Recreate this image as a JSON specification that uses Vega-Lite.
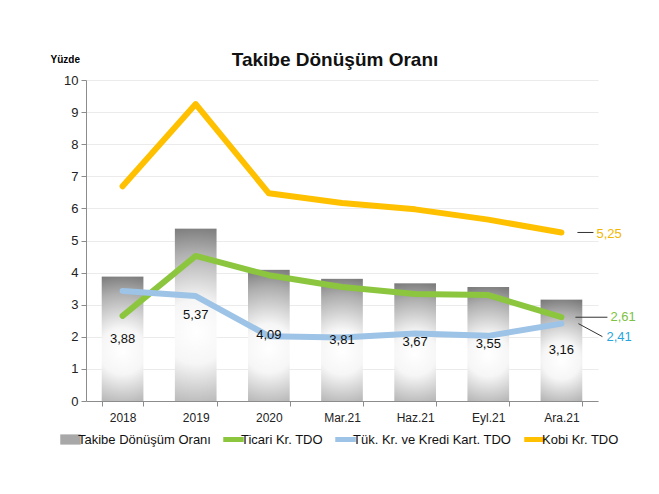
{
  "$schema": "https://vega.github.io/schema/vega-lite/v6.json",
  "autosize": "none",
  "width": 512,
  "height": 321,
  "padding": {"left": 86, "top": 80, "right": 61, "bottom": 93},
  "background": "white",
  "title": {"text": "Takibe Dönüşüm Oranı", "fontSize": 19, "fontWeight": "bold", "font": "Liberation Sans", "color": "#111", "anchor": "middle", "offset": 6, "dy": 22, "dx": -7},
  "datasets": {
    "bars": [
      {"period": "2018", "value": 3.88},
      {"period": "2019", "value": 5.37},
      {"period": "2020", "value": 4.09},
      {"period": "Mar.21", "value": 3.81},
      {"period": "Haz.21", "value": 3.67},
      {"period": "Eyl.21", "value": 3.55},
      {"period": "Ara.21", "value": 3.16}
    ],
    "lines": [
      {"period": "2018", "series": "Ticari Kr. TDO", "value": 2.65},
      {"period": "2019", "series": "Ticari Kr. TDO", "value": 4.52},
      {"period": "2020", "series": "Ticari Kr. TDO", "value": 3.92},
      {"period": "Mar.21", "series": "Ticari Kr. TDO", "value": 3.55},
      {"period": "Haz.21", "series": "Ticari Kr. TDO", "value": 3.33},
      {"period": "Eyl.21", "series": "Ticari Kr. TDO", "value": 3.3},
      {"period": "Ara.21", "series": "Ticari Kr. TDO", "value": 2.61},
      {"period": "2018", "series": "Tük. Kr. ve Kredi Kart. TDO", "value": 3.43},
      {"period": "2019", "series": "Tük. Kr. ve Kredi Kart. TDO", "value": 3.27},
      {"period": "2020", "series": "Tük. Kr. ve Kredi Kart. TDO", "value": 2.02},
      {"period": "Mar.21", "series": "Tük. Kr. ve Kredi Kart. TDO", "value": 1.98},
      {"period": "Haz.21", "series": "Tük. Kr. ve Kredi Kart. TDO", "value": 2.1},
      {"period": "Eyl.21", "series": "Tük. Kr. ve Kredi Kart. TDO", "value": 2.03},
      {"period": "Ara.21", "series": "Tük. Kr. ve Kredi Kart. TDO", "value": 2.41},
      {"period": "2018", "series": "Kobi Kr. TDO", "value": 6.69},
      {"period": "2019", "series": "Kobi Kr. TDO", "value": 9.25},
      {"period": "2020", "series": "Kobi Kr. TDO", "value": 6.47},
      {"period": "Mar.21", "series": "Kobi Kr. TDO", "value": 6.17},
      {"period": "Haz.21", "series": "Kobi Kr. TDO", "value": 5.97},
      {"period": "Eyl.21", "series": "Kobi Kr. TDO", "value": 5.65},
      {"period": "Ara.21", "series": "Kobi Kr. TDO", "value": 5.25}
    ]
  },
  "resolve": {"scale": {"y": "independent"}},
  "encoding": {
    "x": {
      "field": "period", "type": "nominal",
      "sort": ["2018", "2019", "2020", "Mar.21", "Haz.21", "Eyl.21", "Ara.21"],
      "scale": {"paddingInner": 0.43, "paddingOuter": 0.215},
      "axis": {"title": null, "labelAngle": 0, "labelFontSize": 12, "labelColor": "#222", "tickBand": "extent", "tickSize": 5, "domainColor": "#8c8c8c", "tickColor": "#8c8c8c", "labelPadding": 6}
    }
  },
  "layer": [
    {
      "data": {"name": "bars"},
      "mark": {"type": "bar", "fill": {"gradient": "radial", "x1": 0.5, "y1": 0.6, "r1": 0, "x2": 0.5, "y2": 0.6, "r2": 0.62, "stops": [{"offset": 0, "color": "#ffffff"}, {"offset": 0.3, "color": "#f6f6f6"}, {"offset": 0.75, "color": "#aeaeae"}, {"offset": 1, "color": "#7a7a7a"}]}},
      "encoding": {
        "y": {"field": "value", "type": "quantitative", "scale": {"domain": [0, 10]},
          "axis": {"title": "Yüzde", "titleAngle": 0, "titleAlign": "left", "titleBaseline": "alphabetic", "titleX": -36, "titleY": -18, "titleFontSize": 10, "titleFontWeight": "bold", "values": [0,1,2,3,4,5,6,7,8,9,10], "labelFontSize": 13, "labelColor": "#222", "grid": true, "gridColor": "#ebebeb", "domainColor": "#8c8c8c", "tickColor": "#8c8c8c", "tickSize": 5, "labelPadding": 3}}
      }
    },
    {
      "data": {"name": "lines"},
      "mark": {"type": "line", "strokeWidth": 6, "strokeCap": "round", "strokeJoin": "round"},
      "encoding": {
        "y": {"field": "value", "type": "quantitative", "scale": {"domain": [0, 10]}, "axis": null},
        "color": {"field": "series", "type": "nominal",
          "scale": {"domain": ["Takibe Dönüşüm Oranı", "Ticari Kr. TDO", "Tük. Kr. ve Kredi Kart. TDO", "Kobi Kr. TDO"], "range": ["#8a8a8a", "#8CC63F", "#9DC3E6", "#FFC000"]},
          "legend": {"title": null, "orient": "none", "legendX": -22, "legendY": 353, "direction": "horizontal", "columns": 4, "gridAlign": "none", "labelFontSize": 13, "labelColor": "#111", "labelOffset": 1, "labelLimit": 0, "columnPadding": 2, "symbolSize": 420, "symbolStrokeWidth": 5, "symbolType": "stroke",
            "encode": {"symbols": {"update": {
              "shape": {"signal": "datum.value === 'Takibe Dönüşüm Oranı' ? 'M-1,-0.5H1V0.5H-1Z' : 'stroke'"},
              "fill": {"signal": "datum.value === 'Takibe Dönüşüm Oranı' ? '#a8a8a8' : 'transparent'"},
              "strokeWidth": {"signal": "datum.value === 'Takibe Dönüşüm Oranı' ? 0 : 5"}
            }}}
          }
        }
      }
    },
    {
      "data": {"name": "bars"},
      "mark": {"type": "text", "fontSize": 13, "color": "#111"},
      "encoding": {
        "y": {"field": "value", "type": "quantitative", "scale": {"domain": [0, 20]}, "axis": null},
        "text": {"field": "value", "type": "quantitative", "format": ".2f"}
      }
    },
    {
      "data": {"name": "lines"},
      "transform": [{"filter": "datum.period === 'Ara.21' && datum.series === 'Kobi Kr. TDO'"}],
      "mark": {"type": "rule", "color": "#333", "strokeWidth": 1, "xOffset": 16, "x2Offset": 32},
      "encoding": {"x2": {"field": "period"}, "y": {"field": "value", "type": "quantitative", "scale": {"domain": [0, 10]}, "axis": null}}
    },
    {
      "data": {"name": "lines"},
      "transform": [{"filter": "datum.period === 'Ara.21' && datum.series === 'Ticari Kr. TDO'"}],
      "mark": {"type": "rule", "color": "#333", "strokeWidth": 1, "xOffset": 14, "x2Offset": 46},
      "encoding": {"x2": {"field": "period"}, "y": {"field": "value", "type": "quantitative", "scale": {"domain": [0, 10]}, "axis": null}}
    },
    {
      "data": {"name": "lines"},
      "transform": [{"filter": "datum.period === 'Ara.21' && datum.series === 'Tük. Kr. ve Kredi Kart. TDO'"}],
      "mark": {"type": "rule", "color": "#333", "strokeWidth": 1, "xOffset": 17, "x2Offset": 41, "y2Offset": 13},
      "encoding": {"x2": {"field": "period"}, "y": {"field": "value", "type": "quantitative", "scale": {"domain": [0, 10]}, "axis": null}, "y2": {"field": "value"}}
    },
    {
      "data": {"name": "lines"},
      "transform": [{"filter": "datum.period === 'Ara.21' && datum.series === 'Kobi Kr. TDO'"}],
      "mark": {"type": "text", "align": "left", "dx": 35, "dy": 2, "fontSize": 13, "color": "#F2B600"},
      "encoding": {"y": {"field": "value", "type": "quantitative", "scale": {"domain": [0, 10]}, "axis": null}, "text": {"field": "value", "type": "quantitative", "format": ".2f"}}
    },
    {
      "data": {"name": "lines"},
      "transform": [{"filter": "datum.period === 'Ara.21' && datum.series === 'Ticari Kr. TDO'"}],
      "mark": {"type": "text", "align": "left", "dx": 49, "dy": 0, "fontSize": 13, "color": "#7DC242"},
      "encoding": {"y": {"field": "value", "type": "quantitative", "scale": {"domain": [0, 10]}, "axis": null}, "text": {"field": "value", "type": "quantitative", "format": ".2f"}}
    },
    {
      "data": {"name": "lines"},
      "transform": [{"filter": "datum.period === 'Ara.21' && datum.series === 'Tük. Kr. ve Kredi Kart. TDO'"}],
      "mark": {"type": "text", "align": "left", "dx": 45, "dy": 13, "fontSize": 13, "color": "#2AA6DE"},
      "encoding": {"y": {"field": "value", "type": "quantitative", "scale": {"domain": [0, 10]}, "axis": null}, "text": {"field": "value", "type": "quantitative", "format": ".2f"}}
    }
  ],
  "config": {
    "font": "Liberation Sans",
    "view": {"stroke": null},
    "locale": {"number": {"decimal": ",", "thousands": ".", "grouping": [3], "currency": ["", " TL"]}}
  }
}
